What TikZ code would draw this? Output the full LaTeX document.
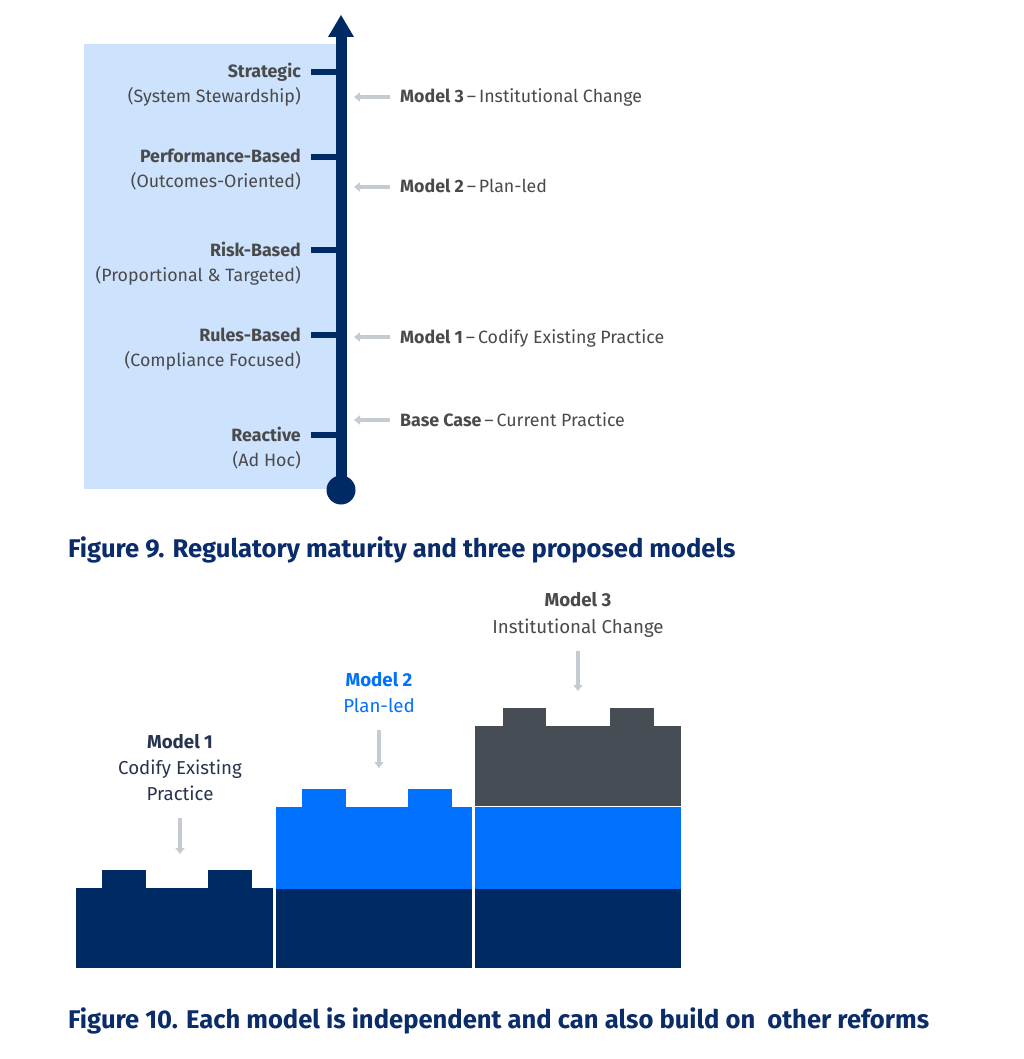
\documentclass[tikz,border=0pt]{standalone}
\usepackage{fontspec}
\setmainfont{Fira Sans}
\usetikzlibrary{arrows.meta}
\definecolor{navy}{HTML}{002A64}
\definecolor{lightblue}{HTML}{CCE2FD}
\definecolor{txtgray}{HTML}{4A4A4A}
\definecolor{arrowgray}{HTML}{C6CBD1}
\definecolor{brightblue}{HTML}{0070FF}
\definecolor{darkgray}{HTML}{474D54}
\definecolor{capnavy}{HTML}{0B2C6B}
\definecolor{slate}{HTML}{27344F}
\tikzset{
  lvl/.style={anchor=base east, inner sep=0pt, text=txtgray, font=\fontsize{17.8}{20}\selectfont},
  mlab/.style={anchor=base west, inner sep=0pt, text=txtgray, font=\fontsize{17.8}{20}\selectfont},
  blab/.style={anchor=base, inner sep=0pt, font=\fontsize{18.7}{21}\selectfont},
  figcap/.style={anchor=base west, inner sep=0pt, text=capnavy, font=\fontsize{25.6}{28}\selectfont\bfseries},
  garrow/.style={draw=arrowgray, line width=3.2pt, -{Triangle[length=6pt,width=9pt]}},
  tickmark/.style={draw=navy, line width=6pt}
}
\begin{document}
\begin{tikzpicture}[x=1pt,y=-1pt]
\useasboundingbox (0,0) rectangle (1023,1059);
\fill[white] (0,0) rectangle (1023,1059);
% ---------- Figure 9 ----------
\fill[lightblue] (84,44) rectangle (336,489);
\coordinate (axbot) at (341,490);
\coordinate (axtop) at (341,36);
\draw[navy, line width=11pt] (axbot) -- (axtop);
\fill[navy] (328,37) -- (341,15) -- (354,37) -- cycle;
\fill[navy] (axbot) circle (14.5);
% ticks and level labels
\foreach \n/\y/\a/\b in {s/72/Strategic/(System Stewardship),
                         p/157/Performance-Based/(Outcomes-Oriented),
                         r/250/Risk-Based/(Proportional \& Targeted),
                         u/335/Rules-Based/(Compliance Focused),
                         e/435/Reactive/(Ad Hoc)}{
  \coordinate (t\n) at (311,\y);
  \coordinate (ta\n) at (336,\y);
  \draw[tickmark] (t\n) -- (ta\n);
  \node[lvl] (l\n) at (301,\y+6) {\textbf{\a}};
  \node[lvl] (d\n) at (301,\y+31) {\b};
}
% model labels on the right
\foreach \n/\y/\a/\b in {m3/97/Model 3/Institutional Change,
                         m2/187/Model 2/Plan-led,
                         m1/337/Model 1/Codify Existing Practice,
                         bc/420/Base Case/Current Practice}{
  \node[mlab] (\n) at (400,\y+6) {\textbf{\a}\,–\,\b};
  \coordinate (\n s) at (390,\y);
  \coordinate (\n e) at (354,\y);
  \draw[garrow] (\n s) -- (\n e);
}
\node[figcap] (cap9) at (68,557) {Figure 9. Regulatory maturity and three proposed models};
% ---------- Figure 10 ----------
% block 1
\fill[navy] (76,888) rectangle (273,968);
\fill[navy] (102,870) rectangle (146,889);
\fill[navy] (208,870) rectangle (252,889);
% block 2
\fill[navy] (276,888) rectangle (472,968);
\fill[brightblue] (276,807) rectangle (472,888.5);
\fill[brightblue] (302,789) rectangle (346,808);
\fill[brightblue] (408,789) rectangle (452,808);
% block 3
\fill[navy] (475,888) rectangle (681,968);
\fill[brightblue] (475,807) rectangle (681,888.5);
\fill[darkgray] (475,726) rectangle (681,806);
\fill[darkgray] (503,708) rectangle (546,727);
\fill[darkgray] (610,708) rectangle (654,727);
% labels
\node[blab, text=slate] (b1a) at (180,748) {\textbf{Model 1}};
\node[blab, text=slate] (b1b) at (180,774) {Codify Existing};
\node[blab, text=slate] (b1c) at (180,800) {Practice};
\node[blab, text=brightblue] (b2a) at (379,686) {\textbf{Model 2}};
\node[blab, text=brightblue] (b2b) at (379,712) {Plan-led};
\node[blab, text=txtgray] (b3a) at (578,606) {\textbf{Model 3}};
\node[blab, text=txtgray] (b3b) at (578,633) {Institutional Change};
\coordinate (a1s) at (180,818); \coordinate (a1e) at (180,854);
\coordinate (a2s) at (379,730); \coordinate (a2e) at (379,768);
\coordinate (a3s) at (578,651); \coordinate (a3e) at (578,691);
\draw[garrow] (a1s) -- (a1e);
\draw[garrow] (a2s) -- (a2e);
\draw[garrow] (a3s) -- (a3e);
\node[figcap] (cap10) at (68,1028) {Figure 10. Each model is independent and can also build on\ \ other reforms};
\end{tikzpicture}
\end{document}
